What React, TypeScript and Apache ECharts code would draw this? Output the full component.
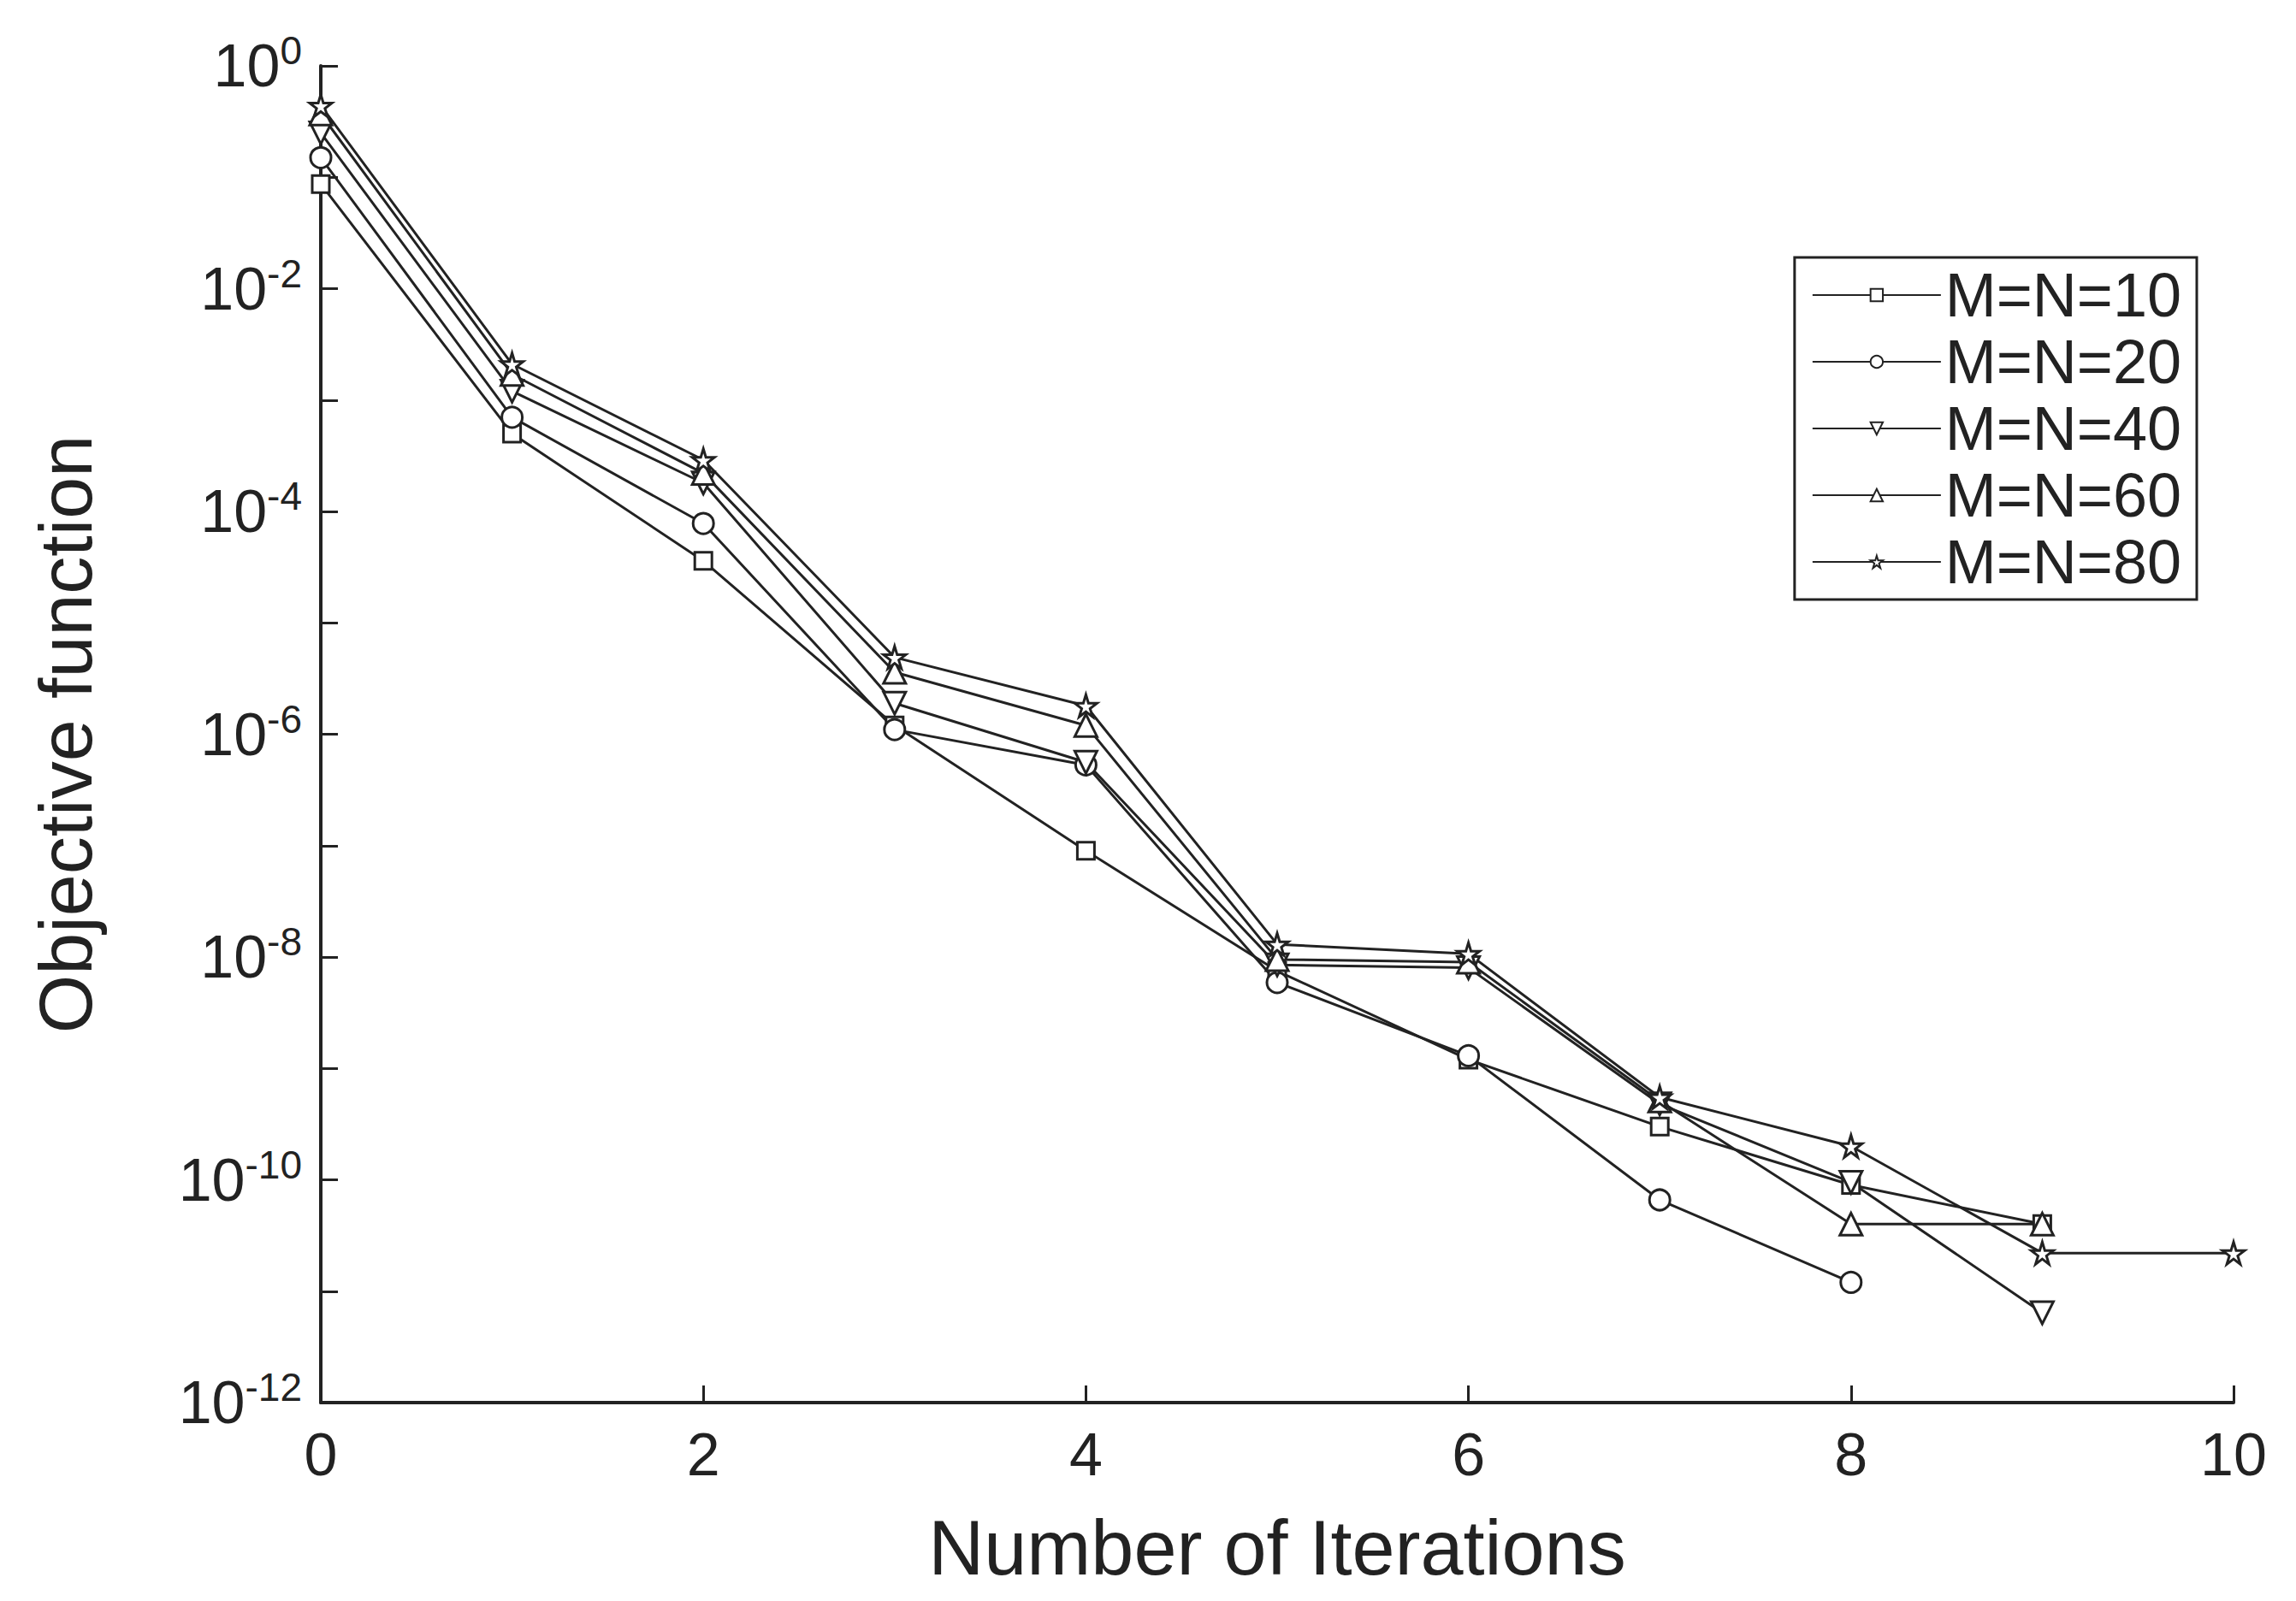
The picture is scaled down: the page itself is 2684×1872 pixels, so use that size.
import { useEffect, useRef } from 'react'
import * as echarts from 'echarts'

const iterations = [0, 1, 2, 3, 4, 5, 6, 7, 8, 9, 10]

const mn10 = [8.7e-2, 5e-4, 3.6e-5, 1.2e-6, 9e-8, 7.5e-9, 1.2e-9, 3e-10, 9e-11, 4e-11]
const mn20 = [0.15, 7e-4, 7.8e-5, 1.1e-6, 5.3e-7, 5.9e-9, 1.3e-9, 6.6e-11, 1.2e-11]
const mn40 = [0.25, 1.2e-3, 1.8e-4, 1.9e-6, 5.6e-7, 8.5e-9, 8e-9, 4.8e-10, 9.5e-11, 6.4e-12]
const mn60 = [0.37, 1.7e-3, 2.2e-4, 3.6e-6, 1.2e-6, 9.5e-9, 9e-9, 5.1e-10, 4e-11, 4e-11]
const mn80 = [0.44, 2.1e-3, 2.9e-4, 4.9e-6, 1.8e-6, 1.3e-8, 1.07e-8, 5.5e-10, 2e-10, 2.2e-11, 2.2e-11]

const star =
  'path://M50,0 L61,35 L98,35 L68,57 L79,91 L50,70 L21,91 L32,57 L2,35 L39,35 Z'

const seriesDefs = [
  { name: 'M=N=10', data: mn10, symbol: 'rect', rotate: 0, size: 20 },
  { name: 'M=N=20', data: mn20, symbol: 'circle', rotate: 0, size: 24 },
  { name: 'M=N=40', data: mn40, symbol: 'triangle', rotate: 180, size: 26 },
  { name: 'M=N=60', data: mn60, symbol: 'triangle', rotate: 0, size: 26 },
  { name: 'M=N=80', data: mn80, symbol: star, rotate: 0, size: 26 },
]

const font = '"Liberation Sans", Arial, sans-serif'

export default function App() {
  const ref = useRef<HTMLDivElement>(null)

  useEffect(() => {
    if (!ref.current) return
    const chart = echarts.init(ref.current, undefined, { renderer: 'svg' })

    chart.setOption({
      animation: false,
      backgroundColor: '#fff',
      textStyle: { fontFamily: font, color: '#222' },
      grid: { left: 367, right: 65, top: 69, bottom: 224 },
      legend: {
        right: 108,
        top: 293,
        orient: 'vertical',
        backgroundColor: '#fff',
        borderColor: '#222',
        borderWidth: 3,
        padding: [8, 18, 8, 20],
        itemGap: 6,
        itemWidth: 150,
        itemHeight: 18,
        textStyle: { fontSize: 72, fontFamily: font, color: '#222' },
        data: seriesDefs.map((s) => s.name),
      },
      xAxis: {
        type: 'value',
        min: 0,
        max: 10,
        interval: 2,
        name: 'Number of Iterations',
        nameLocation: 'middle',
        nameGap: 125,
        nameTextStyle: { fontSize: 90, color: '#222' },
        axisLine: { lineStyle: { color: '#222', width: 4 } },
        axisTick: { inside: true, length: 20, lineStyle: { width: 3 } },
        axisLabel: { fontSize: 70, color: '#222', margin: 26 },
        splitLine: { show: false },
      },
      yAxis: {
        type: 'log',
        logBase: 10,
        min: 1e-12,
        max: 1,
        interval: 1,
        name: 'Objective function',
        nameLocation: 'middle',
        nameGap: 255,
        nameTextStyle: { fontSize: 88, color: '#222' },
        axisLine: { show: true, lineStyle: { color: '#222', width: 4 } },
        axisTick: { show: true, inside: true, length: 20, lineStyle: { width: 3 } },
        axisLabel: {
          margin: 22,
          formatter: (v: number) => {
            const e = Math.round(Math.log10(v))
            if (e % 2 !== 0) return ''
            return `{b|10}{s|${e}}`
          },
          rich: {
            b: { fontSize: 70, color: '#222', fontFamily: font },
            s: {
              fontSize: 46,
              color: '#222',
              fontFamily: font,
              verticalAlign: 'bottom',
              padding: [0, 0, 36, 0],
            },
          },
        },
        splitLine: { show: false },
      },
      series: seriesDefs.map((s) => ({
        name: s.name,
        type: 'line',
        data: s.data.map((v, i) => [iterations[i], v]),
        symbol: s.symbol,
        symbolRotate: s.rotate,
        symbolSize: s.size,
        showAllSymbol: true,
        lineStyle: { color: '#222', width: 3 },
        itemStyle: { color: '#fff', borderColor: '#222', borderWidth: 3 },
      })),
    })

    return () => chart.dispose()
  }, [])

  return <div ref={ref} style={{ width: 2668, height: 1856 }} />
}
